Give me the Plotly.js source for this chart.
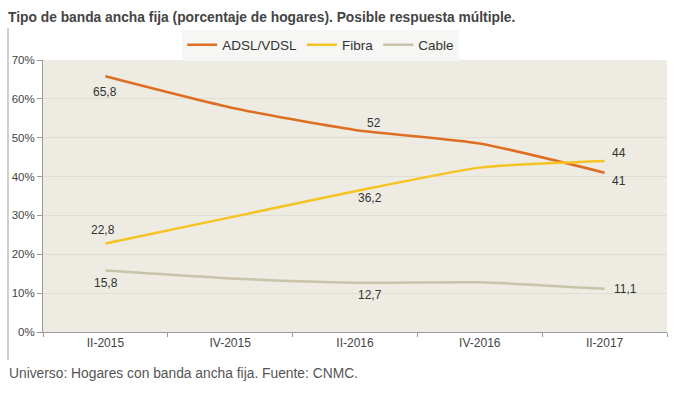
<!DOCTYPE html>
<html>
<head>
<meta charset="utf-8">
<script src="https://cdn.plot.ly/plotly-3.0.1.min.js"></script>
<style>html,body{margin:0;padding:0;background:#fff;}#chart{width:684px;height:394px;}</style>
</head>
<body>
<div id="chart"></div>
<script>
const categories = ["II-2015", "IV-2015", "II-2016", "IV-2016", "II-2017"];
const adsl = [65.8, 57.8, 52, 48.5, 41];
const fibra = [22.8, 29.5, 36.2, 42.3, 44];
const cable = [15.8, 13.8, 12.7, 12.8, 11.1];
const seriesNames = ["ADSL/VDSL", "Fibra", "Cable"];
const labeledIdx = [0, 2, 4];

const FONT = 'Liberation Sans, Arial, sans-serif';
const colors = ['#DD6E22', '#F5C422', '#C8C3A9'];
// label offsets [xshift, yshift] for labeled points (II-2015, II-2016, II-2017)
const offsets = [
  [[0, -16], [19, 7], [14, -8]],
  [[-2, 13], [15, -7], [14, 8]],
  [[1, -12], [15, -12], [21, 0]]
];
const allSeries = [adsl, fibra, cable];

const data = allSeries.map((vals, k) => ({
  x: categories, y: vals, name: seriesNames[k], type: 'scatter', mode: 'lines',
  line: {color: colors[k], width: 2.5, shape: 'spline', smoothing: 0.6},
  hoverinfo: 'skip'
}));

const annotations = [];
allSeries.forEach((vals, k) => {
  labeledIdx.forEach((i, j) => {
    annotations.push({
      x: categories[i], y: vals[i], xref: 'x', yref: 'y',
      text: String(vals[i]).replace('.', ','), showarrow: false,
      xshift: offsets[k][j][0], yshift: offsets[k][j][1],
      font: {family: FONT, size: 12, color: '#333'}
    });
  });
});
annotations.push({text: 'Universo: Hogares con banda ancha fija. Fuente: CNMC.', xref: 'paper', yref: 'paper',
  x: (7-43)/624, xanchor: 'left', y: (332-373)/272, yanchor: 'middle', showarrow: false,
  font: {family: FONT, size: 13.8, color: '#555'}});

const layout = {
  width: 684, height: 394,
  margin: {l: 43, r: 17, t: 60, b: 62},
  paper_bgcolor: '#ffffff', plot_bgcolor: '#EDEBE2',
  font: {family: FONT, size: 11, color: '#444'},
  title: {text: '<b>Tipo de banda ancha fija (porcentaje de hogares). Posible respuesta múltiple.</b>',
          x: 8/684, xanchor: 'left', xref: 'container', y: 1 - 17/394, yref: 'container', yanchor: 'middle',
          font: {size: 13.8, color: '#444', family: FONT}},
  showlegend: true,
  legend: {orientation: 'h', x: 0.445, xanchor: 'center', y: (332-45)/272, yanchor: 'middle',
           bgcolor: '#F6F6F4', font: {size: 13.5, color: '#333', family: FONT}, traceorder: 'normal',
           itemwidth: 30, tracegroupgap: 0},
  xaxis: {type: 'category', tickson: 'boundaries', ticks: 'outside', ticklen: 4, tickcolor: '#999',
          showline: true, linecolor: '#999', linewidth: 1, showgrid: false,
          tickfont: {size: 12, color: '#444', family: FONT}, range: [-0.5, 4.5], fixedrange: true},
  yaxis: {range: [0, 70], dtick: 10, ticksuffix: '%', ticks: 'outside', ticklen: 5, tickcolor: '#999',
          showline: true, linecolor: '#999', linewidth: 1, gridcolor: '#E0DDD2', gridwidth: 1,
          zeroline: false, tickfont: {size: 11.5, color: '#444', family: FONT}, fixedrange: true},
  shapes: [{type: 'line', xref: 'paper', yref: 'paper', x0: (8-43)/624, x1: (8-43)/624,
            y0: (332-360)/272, y1: (332-28)/272, line: {color: '#A0A0A0', width: 1}}],
  annotations: annotations
};
Plotly.newPlot('chart', data, layout, {displayModeBar: false, staticPlot: true});
</script>
</body>
</html>
